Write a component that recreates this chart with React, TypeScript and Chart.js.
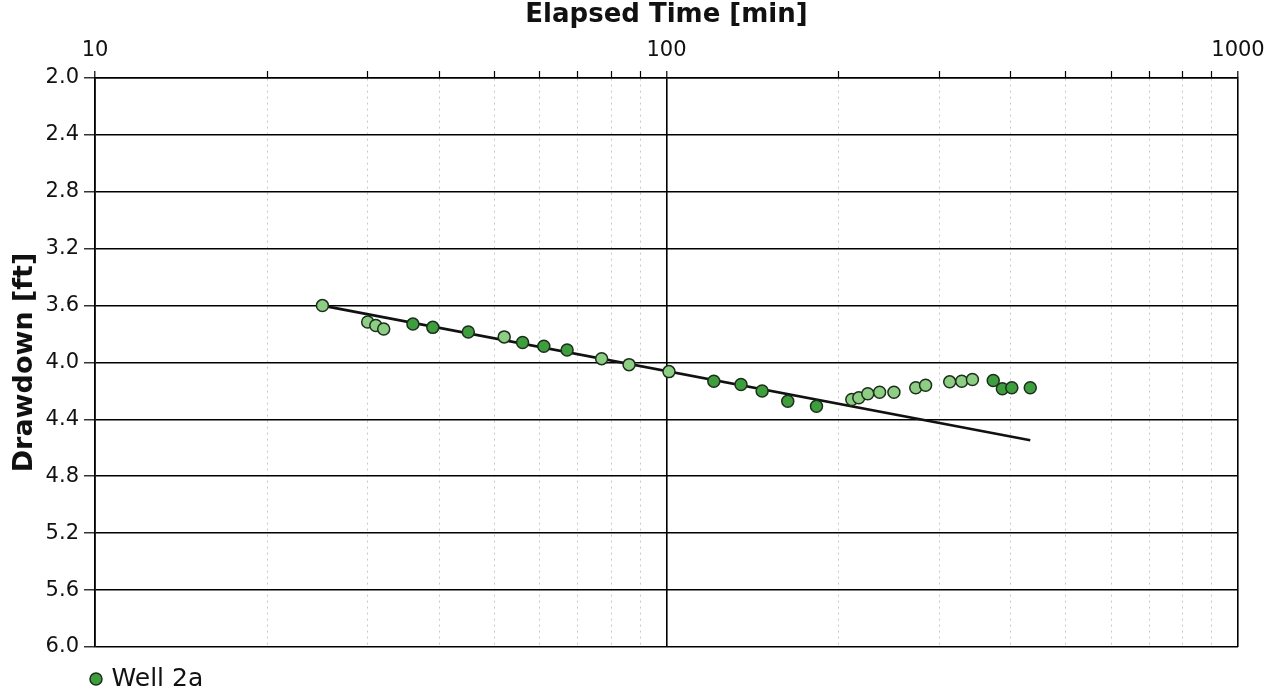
import React, { useEffect, useRef } from "react";
import { Chart, registerables } from "chart.js";

Chart.register(...registerables);

// ---- data ----
const seriesName = "Well 2a";
const xTickValues = [10, 20, 30, 40, 50, 60, 70, 80, 90, 100, 200, 300, 400, 500, 600, 700, 800, 900, 1000];
const xTickLabels = ["10", "", "", "", "", "", "", "", "", "100", "", "", "", "", "", "", "", "", "1000"];
const yTickValues = [2.0, 2.4, 2.8, 3.2, 3.6, 4.0, 4.4, 4.8, 5.2, 5.6, 6.0];

// elapsed time [min] / drawdown [ft]
const darkTime = [36, 39, 45, 56, 61, 67, 121, 135, 147, 163, 183, 373, 387, 402, 433];
const darkDrawdown = [3.73, 3.753, 3.785, 3.86, 3.886, 3.912, 4.132, 4.155, 4.2, 4.272, 4.307, 4.127, 4.185, 4.178, 4.178];
const lightTime = [25, 30, 31, 32, 52, 77, 86, 101, 211, 217, 225, 236, 250, 273, 284, 313, 328.5, 343];
const lightDrawdown = [3.6, 3.715, 3.74, 3.765, 3.82, 3.973, 4.015, 4.064, 4.26, 4.248, 4.22, 4.209, 4.209, 4.178, 4.16, 4.136, 4.132, 4.12];
const fitTime = [25, 433];
const fitDrawdown = [3.6, 4.546];

// ---- styles ----
const FONT = "'DejaVu Sans', Verdana, sans-serif";
const TEXT = "#111";
const DARK = "rgb(62,158,62)";
const LIGHT = "rgb(142,206,132)";
const EDGE = "#1c2e1c";
const LEGEND_DROP = 11.5;
const LEGEND_LEFT_SHIFT = 10;

const isDecade = (v: number) => Math.abs(Math.log10(v) - Math.round(Math.log10(v))) < 1e-9;

const legendShift = {
  id: "legendShift",
  afterLayout(chart: any) {
    const lg = chart.legend;
    if (lg) {
      lg.top += LEGEND_DROP;
      lg.bottom += LEGEND_DROP;
      lg.left -= LEGEND_LEFT_SHIFT;
    }
  },
};

export default function App() {
  const ref = useRef<HTMLCanvasElement>(null);

  useEffect(() => {
    const canvas = ref.current;
    if (!canvas) return;
    const pts = (xs: number[], ys: number[]) => xs.map((x, i) => ({ x, y: ys[i] }));

    const chart = new Chart(canvas, {
      type: "scatter",
      data: {
        datasets: [
          {
            label: seriesName,
            data: pts(darkTime, darkDrawdown),
            backgroundColor: DARK,
            borderColor: EDGE,
            borderWidth: 1.5,
            pointRadius: 6,
            pointStyle: "circle",
            order: 1,
          },
          {
            label: "Well 2a (late)",
            data: pts(lightTime, lightDrawdown),
            backgroundColor: LIGHT,
            borderColor: EDGE,
            borderWidth: 1.5,
            pointRadius: 6,
            pointStyle: "circle",
            order: 1,
          },
          {
            label: "fit",
            data: pts(fitTime, fitDrawdown),
            showLine: true,
            borderColor: "#111",
            borderWidth: 2.6,
            pointRadius: 0,
            order: 3,
          },
        ],
      },
      options: {
        responsive: false,
        animation: false,
        layout: { padding: { left: 0, right: 40, top: 0, bottom: 6 } },
        plugins: {
          legend: {
            position: "bottom",
            align: "start",
            fullSize: false,
            labels: {
              usePointStyle: true,
              pointStyle: "circle",
              boxWidth: 6,
              boxHeight: 8.5,
              padding: 8,
              color: TEXT,
              font: { family: FONT, size: 25 },
              filter: (item: any) => item.text === seriesName,
            },
          },
          tooltip: { enabled: false },
        },
        scales: {
          x: {
            type: "logarithmic",
            position: "top",
            min: 10,
            max: 1000,
            afterBuildTicks: (s: any) => {
              s.ticks = xTickValues.map((v) => ({ value: v }));
            },
            afterFit: (s: any) => {
              s.height = 78;
            },
            ticks: {
              autoSkip: false,
              maxRotation: 0,
              padding: 8,
              color: TEXT,
              font: { family: FONT, size: 21 },
              callback: (_v: any, i: number) => xTickLabels[i],
            },
            grid: {
              color: (c: any) => (c.tick && isDecade(c.tick.value) ? "#000" : "rgba(0,0,0,0.22)"),
              lineWidth: (c: any) => (c.tick && isDecade(c.tick.value) ? 1.6 : 1),
              tickColor: "#000",
              tickLength: 7,
              tickWidth: 1.2,
              tickBorderDash: [],
            },
            border: {
              display: true,
              color: "#000",
              width: 1.6,
              dash: (c: any) => (c.tick && !isDecade(c.tick.value) ? [2, 4] : []),
            },
            title: {
              display: true,
              text: "Elapsed Time [min]",
              color: TEXT,
              font: { family: FONT, size: 26, weight: "bold" },
              padding: { top: 0, bottom: 0 },
            },
          },
          y: {
            type: "linear",
            reverse: true,
            min: 2,
            max: 6,
            afterBuildTicks: (s: any) => {
              s.ticks = yTickValues.map((v) => ({ value: v }));
            },
            afterFit: (s: any) => {
              s.width = 95;
            },
            ticks: {
              padding: 5,
              color: TEXT,
              font: { family: FONT, size: 21 },
              callback: (v: any) => Number(v).toFixed(1),
            },
            grid: {
              color: "#000",
              lineWidth: 1.6,
              tickColor: "#000",
              tickLength: 11,
              tickWidth: 1.2,
            },
            border: { display: true, color: "#000", width: 1.6 },
            title: {
              display: true,
              text: "Drawdown [ft]",
              color: TEXT,
              font: { family: FONT, size: 27, weight: "bold" },
              padding: { top: 9, bottom: 0 },
            },
          },
        },
      },
      plugins: [legendShift],
    } as any);

    return () => chart.destroy();
  }, []);

  return (
    <div style={{ position: "fixed", left: 0, top: 0, width: 1278, height: 696, background: "#fff" }}>
      <canvas ref={ref} width={1278} height={696} style={{ display: "block" }} />
    </div>
  );
}
